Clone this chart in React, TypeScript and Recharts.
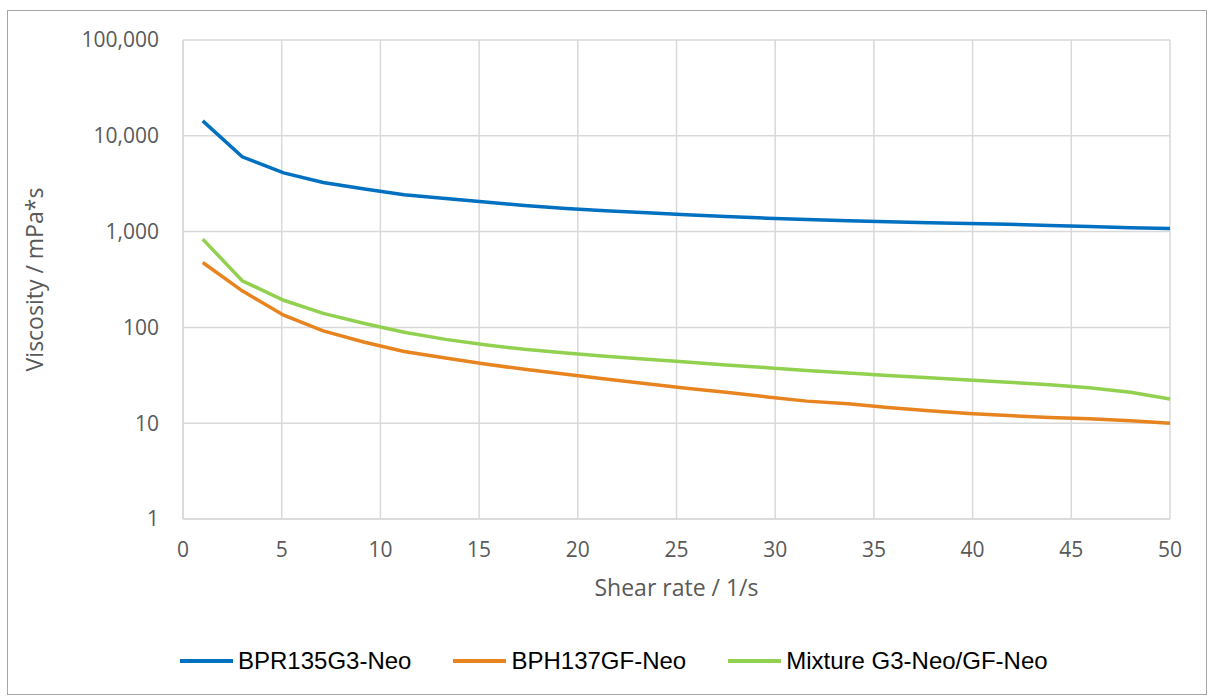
import React from 'react';
import { LineChart, Line, XAxis, YAxis, CartesianGrid, Legend } from 'recharts';

// shear rate (1/s) at which viscosity was sampled
const shearRates = [
  1, 3, 5.1, 7.1, 9.2, 11.2, 13.3, 15.3, 17.3, 19.4, 21.4, 23.5, 25.5, 27.5, 29.6, 31.6, 33.7, 35.7,
  37.8, 39.8, 41.8, 43.9, 45.9, 48, 50,
];

// viscosity in mPa*s
const bpr135g3 = [
  14300, 6030, 4100, 3250, 2780, 2420, 2210, 2040, 1870, 1740, 1650, 1570, 1495, 1440, 1380, 1340,
  1300, 1265, 1240, 1217, 1190, 1160, 1130, 1100, 1077,
];
const bph137gf = [
  476, 241, 134, 92, 70, 56, 48, 41.5, 36.5, 32.5, 29, 25.8, 23.2, 21, 18.8, 17, 16, 14.6, 13.5, 12.6,
  12, 11.5, 11.1, 10.6, 10,
];
const mixture = [
  835, 307, 192, 140, 110, 89, 75, 66, 59, 54, 50, 46.5, 43.5, 40.5, 38, 35.5, 33.5, 31.5, 29.8, 28.2,
  26.8, 25.2, 23.4, 21, 17.9,
];

const xTicks = [0, 5, 10, 15, 20, 25, 30, 35, 40, 45, 50];
const yTicks = [1, 10, 100, 1000, 10000, 100000];

const seriesInfo = [
  { key: 'bpr', name: 'BPR135G3-Neo', color: '#0070C0' },
  { key: 'bph', name: 'BPH137GF-Neo', color: '#E8841F' },
  { key: 'mix', name: 'Mixture G3-Neo/GF-Neo', color: '#92D050' },
];

const data = shearRates.map((x, i) => ({
  x,
  bpr: bpr135g3[i],
  bph: bph137gf[i],
  mix: mixture[i],
}));

const gridColor = '#d9d9d9';
const textColor = '#595959';
const tickStyle = { fill: textColor, fontSize: 21, fontFamily: '"Open Sans", sans-serif' };

function LegendRow() {
  return (
    <div style={{ display: 'flex', alignItems: 'center' }}>
      {seriesInfo.map((s) => (
        <div key={s.key} style={{ display: 'flex', alignItems: 'center', marginRight: 42 }}>
          <div style={{ width: 53, height: 4, background: s.color, marginRight: 5 }} />
          <span
            style={{
              fontFamily: '"Liberation Sans", Arial, sans-serif',
              fontSize: 24,
              color: '#000',
              lineHeight: '30px',
            }}
          >
            {s.name}
          </span>
        </div>
      ))}
    </div>
  );
}

function YTitle(props: any) {
  const vb = props.viewBox || {};
  const cy = vb.y + vb.height / 2;
  const cx = 26;
  return (
    <text
      x={cx}
      y={cy}
      transform={`rotate(-90, ${cx}, ${cy})`}
      textAnchor="middle"
      dominantBaseline="central"
      fill={textColor}
      fontSize={23}
      fontFamily='"Open Sans", sans-serif'
    >
      Viscosity / mPa*s
    </text>
  );
}

export default function App() {
  return (
    <div
      style={{
        position: 'absolute',
        left: 7,
        top: 10,
        width: 1200,
        height: 685,
        border: '1px solid #a6a6a6',
        boxSizing: 'border-box',
        background: '#fff',
      }}
    >
      <LineChart width={1198} height={683} data={data} margin={{ top: 29, right: 36, left: 0, bottom: 8 }}>
        <CartesianGrid stroke={gridColor} strokeWidth={1.5} />
        <XAxis
          dataKey="x"
          type="number"
          domain={[0, 50]}
          ticks={xTicks}
          height={127}
          tickLine={false}
          tickSize={21}
          axisLine={{ stroke: gridColor, strokeWidth: 1.5 }}
          tick={tickStyle}
          label={{
            value: 'Shear rate / 1/s',
            position: 'insideTop',
            offset: 61,
            fill: textColor,
            fontSize: 23,
            fontFamily: '"Open Sans", sans-serif',
          }}
        />
        <YAxis
          scale="log"
          domain={[1, 100000]}
          ticks={yTicks}
          allowDataOverflow
          width={175}
          tickLine={false}
          tickSize={22}
          axisLine={{ stroke: gridColor, strokeWidth: 1.5 }}
          tick={tickStyle}
          tickFormatter={(v: number) => v.toLocaleString('en-US')}
          label={<YTitle />}
        />
        <Legend
          verticalAlign="bottom"
          height={40}
          content={() => <LegendRow />}
          wrapperStyle={{ left: 172, width: 1000 }}
        />
        {seriesInfo.map((s) => (
          <Line
            key={s.key}
            type="linear"
            dataKey={s.key}
            name={s.name}
            stroke={s.color}
            strokeWidth={3.5}
            dot={false}
            isAnimationActive={false}
          />
        ))}
      </LineChart>
    </div>
  );
}
